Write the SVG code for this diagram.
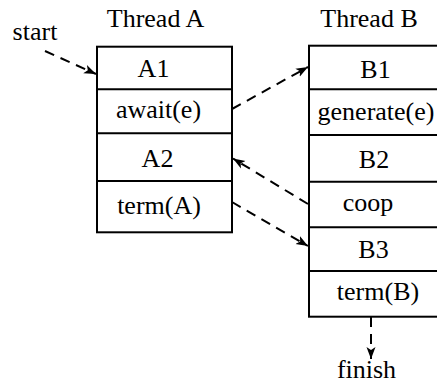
<svg xmlns="http://www.w3.org/2000/svg" width="437" height="385" viewBox="0 0 437 385">
  <style>
    text { font-family: "Liberation Serif", "Times New Roman", serif; font-size: 26px; fill: #000; text-anchor: middle; }
    .box { fill: #fff; stroke: #000; stroke-width: 2; }
    .div { stroke: #000; stroke-width: 2; }
    .conn { fill: none; stroke: #000; stroke-width: 2; stroke-dasharray: 10 7; }
  </style>
  <defs>
    <marker id="arr" markerUnits="userSpaceOnUse" markerWidth="14" markerHeight="10" refX="12" refY="5" orient="auto">
      <path d="M0,0.5 L12,5 L0,9.5 L3,5 Z" fill="#000"/>
    </marker>
  </defs>
  <rect width="437" height="385" fill="#fff"/>

  <text x="155.5" y="27">Thread A</text>
  <text x="369" y="27">Thread B</text>
  <text x="35" y="40">start</text>
  <text x="366.5" y="378">finish</text>

  <g id="threadA">
    <rect class="box" x="97" y="46.7" width="135" height="185.6"/>
    <line class="div" x1="97" y1="89.3" x2="232" y2="89.3"/>
    <line class="div" x1="97" y1="133.3" x2="232" y2="133.3"/>
    <line class="div" x1="97" y1="181" x2="232" y2="181"/>
  </g>
  <g id="A1"><text x="153.5" y="77">A1</text></g>
  <g id="await"><text x="158.5" y="118">await(e)</text></g>
  <g id="A2"><text x="157.5" y="167">A2</text></g>
  <g id="termA"><text x="159" y="214">term(A)</text></g>

  <g id="threadB">
    <rect class="box" x="309" y="45.7" width="135" height="271"/>
    <line class="div" x1="309" y1="89.3" x2="444" y2="89.3"/>
    <line class="div" x1="309" y1="135" x2="444" y2="135"/>
    <line class="div" x1="309" y1="181.7" x2="444" y2="181.7"/>
    <line class="div" x1="309" y1="227.3" x2="444" y2="227.3"/>
    <line class="div" x1="309" y1="271" x2="444" y2="271"/>
  </g>
  <g id="B1"><text x="375.5" y="78">B1</text></g>
  <g id="generate"><text x="376" y="120">generate(e)</text></g>
  <g id="B2"><text x="374" y="168">B2</text></g>
  <g id="coop"><text x="368" y="211">coop</text></g>
  <g id="B3"><text x="373.5" y="258">B3</text></g>
  <g id="termB"><text x="378" y="300">term(B)</text></g>

  <g id="connectors">
    <line class="conn" x1="45" y1="51" x2="96" y2="74" marker-end="url(#arr)"/>
    <line class="conn" x1="232" y1="109" x2="308" y2="67" marker-end="url(#arr)"/>
    <line class="conn" x1="308" y1="204" x2="233" y2="158.5" marker-end="url(#arr)"/>
    <line class="conn" x1="232" y1="202" x2="308" y2="246" marker-end="url(#arr)"/>
    <line class="conn" x1="371" y1="317" x2="371" y2="359" marker-end="url(#arr)"/>
  </g>
</svg>
